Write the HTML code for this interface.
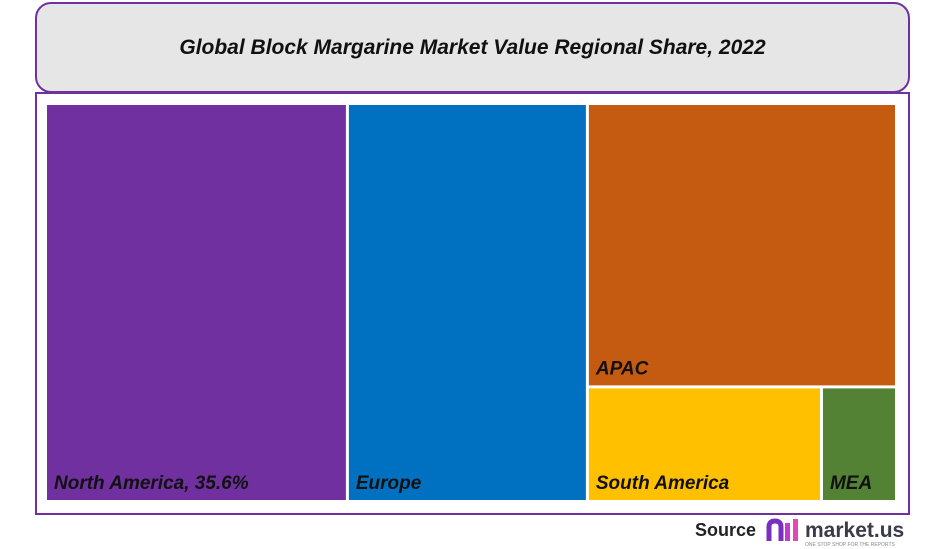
<!DOCTYPE html>
<html><head><meta charset="utf-8"><style>
body{margin:0;width:945px;height:548px;background:#fff;font-family:"Liberation Sans",sans-serif;overflow:hidden;position:relative}
#title{position:absolute;left:35px;top:2px;width:871px;height:87px;background:#e6e6e6;border:2px solid #7030a0;border-radius:16px;display:flex;align-items:center;justify-content:center;font-weight:bold;font-style:italic;font-size:21px;color:#111}
#box{position:absolute;left:35px;top:92px;width:871px;height:419px;border:2px solid #7030a0;background:#fff}
#src{position:absolute;left:695px;top:520px;font-weight:bold;font-size:18px;color:#222}
#logo{position:absolute;left:765px;top:515px}
</style></head><body>
<div id="title">Global Block Margarine Market Value Regional Share, 2022</div>
<div id="box"></div>
<svg id="tm" width="945" height="548" style="position:absolute;left:0;top:0"></svg>
<div id="src">Source</div>
<svg id="logo" width="150" height="34">
<path d="M4 26 V12 q0-6 6-6 q6 0 6 6 V26" fill="none" stroke="#7b2fbf" stroke-width="5"/>
<rect x="20" y="8" width="5" height="18" fill="#c23bd4"/><rect x="28" y="4" width="5" height="22" fill="#e04ab0"/>
<text x="40" y="22" font-family="Liberation Sans" font-weight="bold" font-size="21" fill="#3a3a4a">market.us</text>
<text x="40" y="31" font-family="Liberation Sans" font-size="5" fill="#888">ONE STOP SHOP FOR THE REPORTS</text>
</svg>
<script>
const regions=["North America","Europe","APAC","South America","MEA"];
const shares=[35.6,28.3,25.9,7.8,2.4];
const labels=["North America, 35.6%","Europe","APAC","South America","MEA"];
const colors=["#7030a0","#0070c0","#c55a11","#ffc000","#548235"];
const svg=document.getElementById('tm');const NS="http://www.w3.org/2000/svg";
const X0=47,Y0=105,W=848,H=395,G=3;
const total=shares.reduce((a,b)=>a+b,0);
function rect(i,x,y,w,h){
 const r=document.createElementNS(NS,'rect');
 r.setAttribute('x',x);r.setAttribute('y',y);r.setAttribute('width',Math.max(0,w));r.setAttribute('height',Math.max(0,h));r.setAttribute('fill',colors[i]);
 
 
 svg.appendChild(r);
 const t=document.createElementNS(NS,'text');
 t.setAttribute('x',x+7);t.setAttribute('y',y+h-11);t.setAttribute('font-family','Liberation Sans');t.setAttribute('font-weight','bold');t.setAttribute('font-style','italic');t.setAttribute('font-size','19');t.setAttribute('fill','#111');
 t.textContent=labels[i];
 
 
 svg.appendChild(t);
}
let x=X0;
const w0=W*shares[0]/total, w1=W*shares[1]/total, w2=W-w0-w1;
rect(0,x,Y0,w0-G,H);x+=w0;
rect(1,x,Y0,w1-G,H);x+=w1;
const rest=shares[2]+shares[3]+shares[4];
const hA=H*shares[2]/rest;
rect(2,x,Y0,w2,hA-G);
const bot=shares[3]+shares[4];
const wS=w2*shares[3]/bot;
rect(3,x,Y0+hA,wS-G,H-hA);
rect(4,x+wS,Y0+hA,w2-wS,H-hA);
</script>
</body></html>
